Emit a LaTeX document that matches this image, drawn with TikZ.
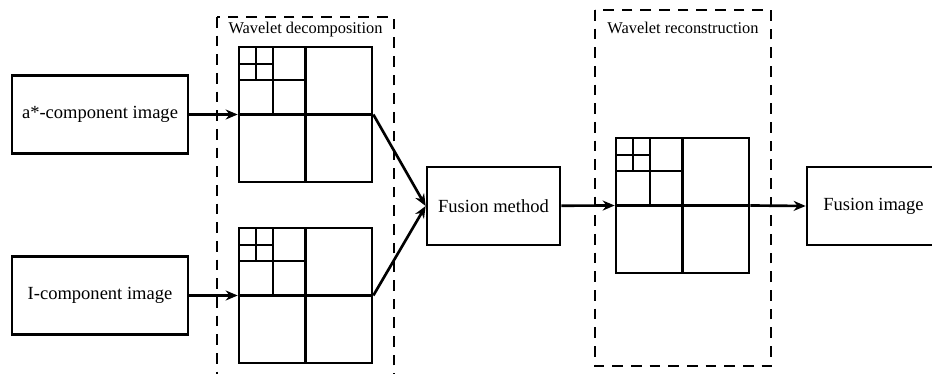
\documentclass[tikz,border=0pt]{standalone}
\usepackage{fontspec}
\setmainfont{Liberation Serif}
\usetikzlibrary{arrows.meta}
\begin{document}
\begin{tikzpicture}[x=0.75pt,y=-0.75pt,
  imgbox/.style={draw, line width=2pt, minimum width=99.75pt, minimum height=58.5pt, inner sep=0pt, font=\fontsize{13.9}{16}\selectfont},
  wgrid/.style={draw, line width=2pt, minimum width=99.75pt, minimum height=101.25pt, inner sep=0pt},
  stage/.style={draw, line width=1.5pt, dash pattern=on 8pt off 6pt},
  stagelabel/.style={anchor=base, font=\fontsize{12.3}{14}\selectfont},
  flow/.style={line width=2pt, -{Stealth[length=9pt,width=7.5pt]}}]
\clip (0,0) rectangle (932,374);
% dashed stage frames
\draw[stage] (217,17) rectangle (394,392);
\draw[stage] (595,10) rectangle (771,366);
\node[stagelabel] (declabel) at (305.5,34) {Wavelet decomposition};
\node[stagelabel] (reclabel) at (683,34) {Wavelet reconstruction};
% image boxes
\node[imgbox, minimum width=132pt] (astar) at (100,114.5) {a*-component image};
\node[imgbox, minimum width=132pt] (icomp) at (100,295.5) {I-component image};
\node[imgbox] (fmethod) at (493.5,206) {Fusion method};
\node[imgbox] (fimage) at (873.5,206) {Fusion image};
% wavelet grids
\foreach \gx/\gy/\gname in {239/47/dtop, 239/228/dbot, 616/138/rgrid}{
  \node[wgrid] (\gname) at (\gx+66.5,\gy+67.5) {};
  \begin{scope}[shift={(\gx,\gy)}, line width=2pt]
  \draw (66.5,0) -- (66.5,135) (0,67.5) -- (133,67.5);
  \draw (34,0) -- (34,67.5) (0,33) -- (66.5,33);
  \draw (17,0) -- (17,33) (0,17) -- (34,17);
  \end{scope}
}
% connectors
\draw[flow] (astar) -- (dtop.west);
\draw[flow] (icomp) -- (dbot.west);
\draw[flow] (dtop.east) -- (fmethod.west);
\draw[flow] (dbot.east) -- (fmethod.west);
\draw[flow] (fmethod) -- (rgrid.west);
\draw[flow] (rgrid.east) -- (fimage.west);
\end{tikzpicture}
\end{document}
